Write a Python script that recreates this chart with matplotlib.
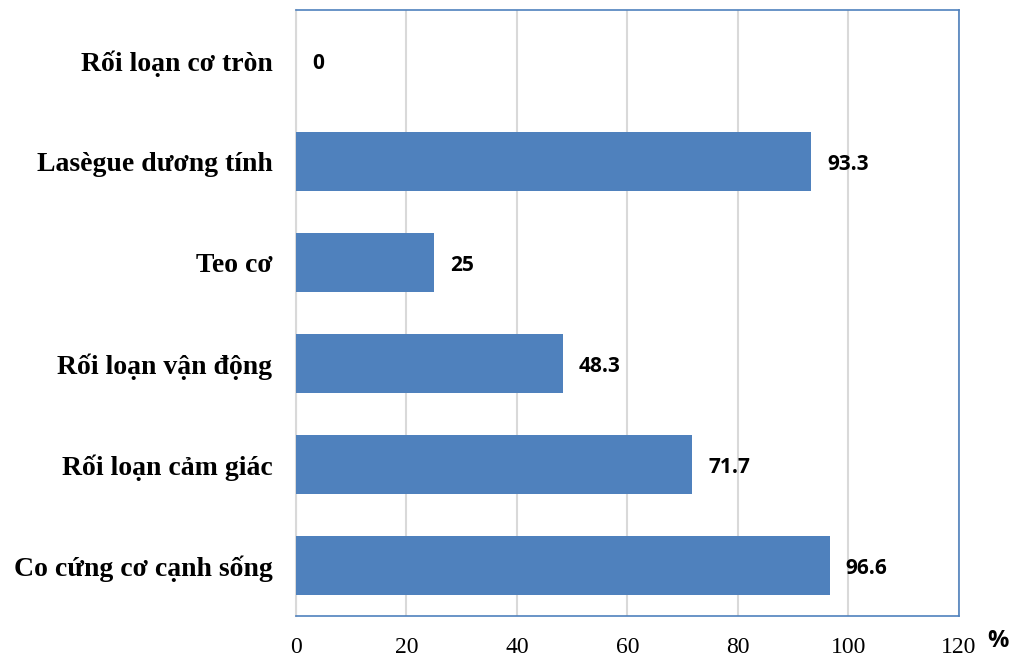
import numpy as np
import matplotlib.pyplot as plt

categories = ["Co cứng cơ cạnh sống", "Rối loạn cảm giác", "Rối loạn vận động",
              "Teo cơ", "Lasègue dương tính", "Rối loạn cơ tròn"]
values = [96.6, 71.7, 48.3, 25, 93.3, 0]
value_labels = ["96.6", "71.7", "48.3", "25", "93.3", "0"]
xticks = [0, 20, 40, 60, 80, 100, 120]

bar_color = "#4F81BD"
spine_color = "#4F81BD"

fig = plt.figure(figsize=(10.16, 6.58), dpi=100)
ax = fig.add_axes([0.2913, 0.0638, 0.6526, 0.921])

y = np.arange(len(categories))
ax.barh(y, values, height=0.58, color=bar_color, zorder=3)

ax.set_xlim(0, 120)
ax.set_ylim(-0.5, len(categories) - 0.5)
ax.set_xticks(xticks)
ax.set_xticklabels([str(t) for t in xticks], family="Liberation Serif", fontsize=17)
ax.set_yticks(y)
ax.set_yticklabels(categories, family="Liberation Serif", fontsize=20, fontweight="bold")
ax.tick_params(axis="both", length=0)
ax.tick_params(axis="x", pad=15)
ax.tick_params(axis="y", pad=17)

ax.grid(axis="x", color="#D9D9D9", linewidth=1.5, zorder=0)
ax.set_axisbelow(True)

for side in ["top", "right", "bottom"]:
    ax.spines[side].set_color(spine_color)
    ax.spines[side].set_linewidth(1.2)
ax.spines["left"].set_color("#D9D9D9")
ax.spines["left"].set_linewidth(1.5)

for yi, v, lab in zip(y, values, value_labels):
    ax.annotate(lab, (v, yi), xytext=(11.5, -2), textcoords="offset points",
                va="center", ha="left", family="Open Sans", fontweight="bold",
                fontsize=15)

fig.text(0.993, 0.008, "%", family="Open Sans", fontweight="bold", fontsize=17,
         ha="right", va="bottom")

fig.savefig("out.png", dpi=100)
